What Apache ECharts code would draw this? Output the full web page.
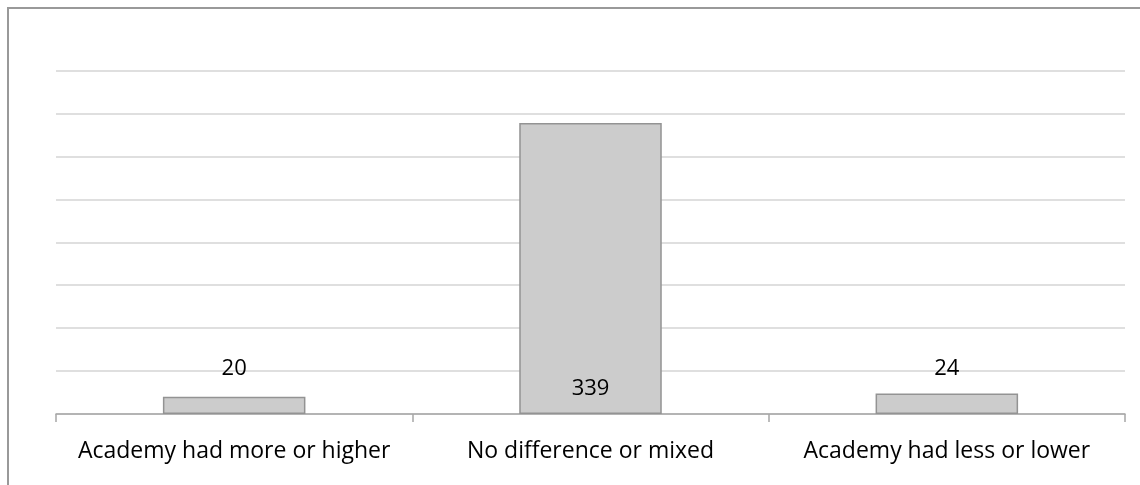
<!DOCTYPE html>
<html>
<head>
<meta charset="utf-8">
<script src="https://cdn.jsdelivr.net/npm/echarts@6/dist/echarts.min.js"></script>
<style>
html,body{margin:0;padding:0;background:#fff;}
#chart{width:1140px;height:485px;}
</style>
</head>
<body>
<div id="chart"></div>
<script>
const categories = ["Academy had more or higher", "No difference or mixed", "Academy had less or lower"];
const values = [20, 339, 24];
const labelPlacement = ["top", "insideBottom", "top"];
const labelDistance = [17.5, 14, 14];

const chart = echarts.init(document.getElementById('chart'), null, {renderer: 'canvas'});
const fontFamily = "'Open Sans', 'Liberation Sans', sans-serif";

const option = {
  animation: false,
  backgroundColor: '#ffffff',
  graphic: [{
    type: 'rect',
    silent: true,
    shape: {x: 8, y: 8, width: 1300, height: 700},
    style: {fill: 'none', stroke: '#999999', lineWidth: 2}
  }],
  grid: {left: 56, right: 15, top: 70.5, bottom: 71, containLabel: false, outerBoundsMode: 'none'},
  xAxis: {
    type: 'category',
    data: categories,
    boundaryGap: true,
    axisLine: {show: true, lineStyle: {color: '#a6a6a6', width: 1.5}},
    axisTick: {show: true, length: 8, alignWithLabel: false, lineStyle: {color: '#a6a6a6', width: 1.5}},
    axisLabel: {color: '#000', fontSize: 23, fontFamily: fontFamily, margin: 26, interval: 0}
  },
  yAxis: {
    type: 'value',
    min: 0, max: 400, interval: 50,
    axisLine: {show: false},
    axisTick: {show: false},
    axisLabel: {show: false},
    splitLine: {show: true, lineStyle: {color: '#d4d4d4', width: 1.5}}
  },
  series: [{
    type: 'bar',
    data: values.map((v, i) => ({
      value: v,
      label: {position: labelPlacement[i], distance: labelDistance[i]}
    })),
    barWidth: '40%',
    itemStyle: {color: '#cccccc', borderColor: '#939393', borderWidth: 1.5},
    label: {show: true, color: '#000', fontSize: 22, fontFamily: fontFamily}
  }]
};
chart.setOption(option);
</script>
</body>
</html>
